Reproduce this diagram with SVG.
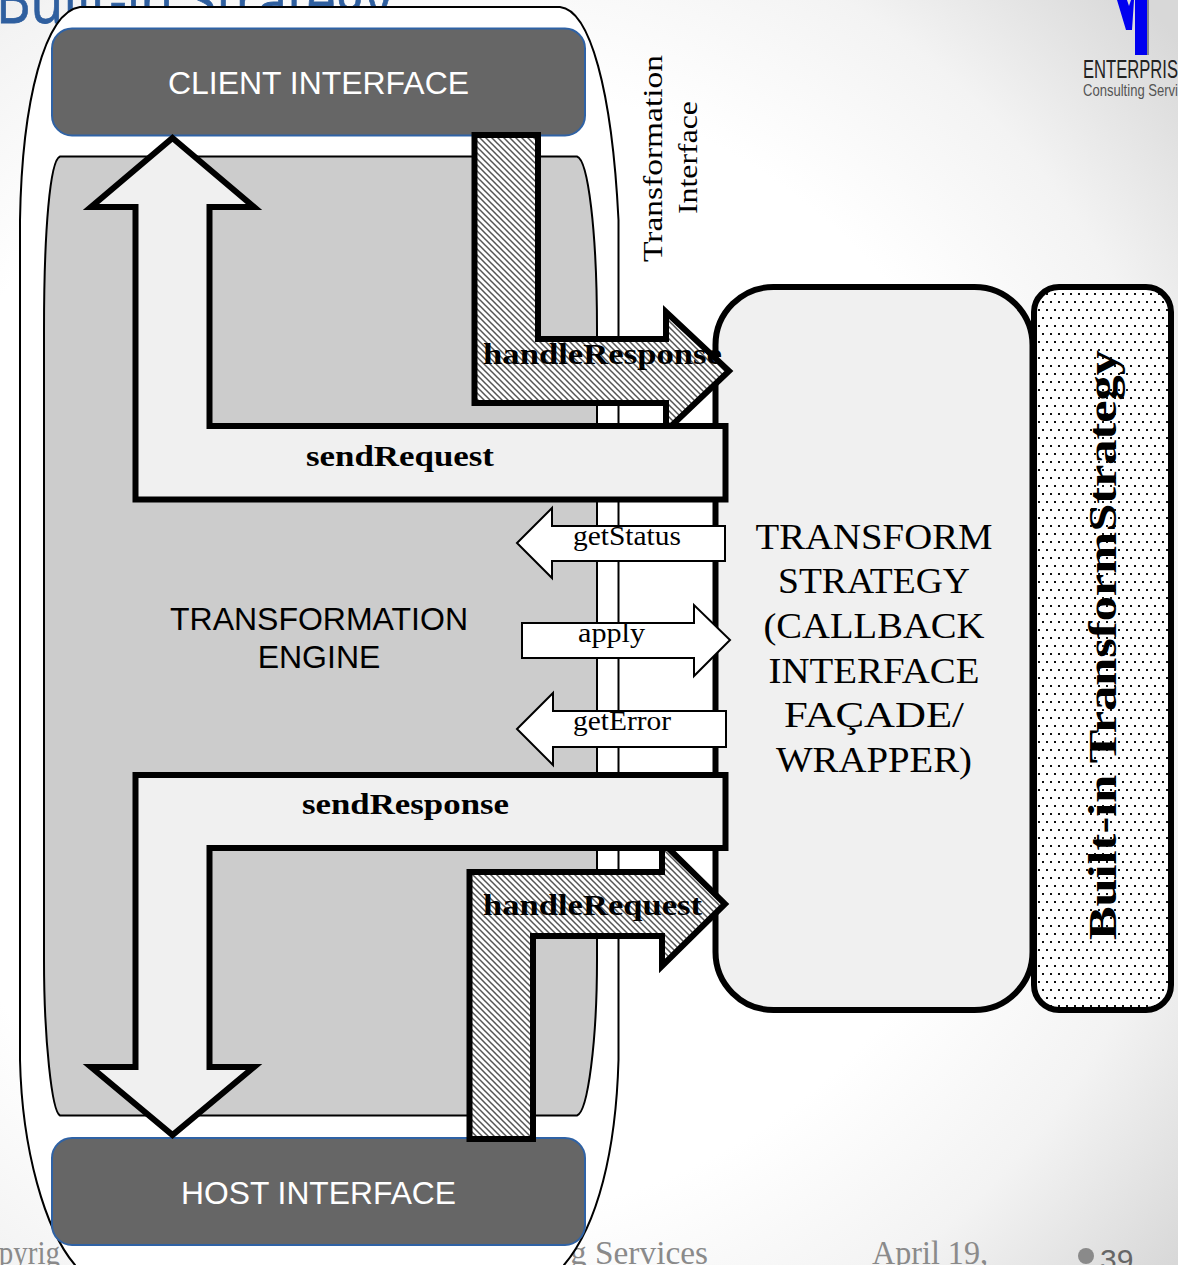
<svg xmlns="http://www.w3.org/2000/svg" width="1178" height="1265" viewBox="0 0 1178 1265">
<style>
.serif{font-family:"Liberation Serif","DejaVu Serif",serif}
.sans{font-family:"Liberation Sans",Arial,sans-serif}
.big{stroke:#000;stroke-width:6;stroke-linejoin:miter;stroke-miterlimit:10}
.light{fill:#f0f0f0}
.hatch{fill:url(#hatch)}
.small{fill:#fff;stroke:#000;stroke-width:2}
.lbl{font-size:27px;text-anchor:middle;fill:#000}
.blbl{font-size:30px;font-weight:bold;text-anchor:middle;fill:#000}
.ts{font-size:36px;text-anchor:middle;fill:#000}
.foot{font-size:34px;fill:#8a8a8a}
.iface{fill:#666;stroke:#2f62a5;stroke-width:2}
.ifacetxt{font-size:32px;fill:#fff;text-anchor:middle}
</style>
<defs>
<radialGradient id="bg" gradientUnits="userSpaceOnUse" cx="450" cy="650" r="950">
<stop offset="0" stop-color="#fff"/><stop offset="0.6" stop-color="#fff"/><stop offset="0.8" stop-color="#f3f3f3"/><stop offset="1" stop-color="#d8d8d8"/>
</radialGradient>
<pattern id="hatch" patternUnits="userSpaceOnUse" width="6" height="6">
<rect width="6" height="6" fill="#fff"/>
<path d="M-1.500,-1.500 L7.500,7.500 M1.500,-4.500 L10.500,4.500 M-4.500,1.500 L4.500,10.500" stroke="#555" stroke-width="1.500" fill="none"/>
</pattern>
<pattern id="dots" patternUnits="userSpaceOnUse" x="1037" y="290" width="8" height="16">
<rect width="8" height="16" fill="#fff"/>
<rect x="1" y="3" width="2" height="2" fill="#111"/>
<rect x="5" y="11" width="2" height="2" fill="#111"/>
</pattern>
</defs>
<rect id="background" width="1178" height="1265" fill="url(#bg)"/>
<g id="title"><text x="-4" y="23" font-size="66" fill="#2f5f9f" stroke="#2f5f9f" stroke-width="0.800" font-family="'Open Sans','Liberation Sans',sans-serif" textLength="396" lengthAdjust="spacingAndGlyphs">Built-in Strategy</text></g>
<g id="logo">
<path d="M1117,0 L1126,30 L1132,30 L1134,0 L1131,0 L1129,6 L1127,0 Z" fill="#0000f0"/>
<rect x="1147" y="0" width="2" height="55" fill="#888"/>
<rect x="1135" y="0" width="12" height="55" fill="#0000f0"/>
<text class="sans" x="1083" y="78" font-size="25" fill="#222" textLength="95" lengthAdjust="spacingAndGlyphs">ENTERPRIS</text>
<text class="sans" x="1083" y="96" font-size="16" fill="#555" textLength="95" lengthAdjust="spacingAndGlyphs">Consulting Servi</text>
</g>
<g id="footer" class="serif">
<text class="foot" x="-35" y="1264" textLength="95" lengthAdjust="spacingAndGlyphs">Copyrig</text>
<text class="foot" x="570" y="1264" textLength="138" lengthAdjust="spacingAndGlyphs">g Services</text>
<text class="foot" x="872" y="1264" textLength="116" lengthAdjust="spacingAndGlyphs">April 19,</text>
<circle cx="1086" cy="1256" r="8" fill="#8a8a8a"/>
<text class="sans" x="1100" y="1270" font-size="30" fill="#666">39</text>
</g>
<g id="outer-capsule"><path d="M80,7 L560,7 C590,10 612,90 618.500,220 L618.500,1060 C616,1150 598,1225 564,1265 L564,1270 L75,1270 L75,1265 C45,1230 22,1150 20,1060 L20,220 C22,100 45,12 80,7 Z" fill="#fff" stroke="#000" stroke-width="2"/></g>
<g id="client-interface">
<rect class="iface" x="52" y="28.500" width="533" height="107" rx="20"/>
<text class="sans ifacetxt" x="318.500" y="94" textLength="301" lengthAdjust="spacingAndGlyphs">CLIENT INTERFACE</text>
</g>
<g id="host-interface">
<rect class="iface" x="52" y="1138" width="533" height="107" rx="20"/>
<text class="sans ifacetxt" x="318.500" y="1204" textLength="275" lengthAdjust="spacingAndGlyphs">HOST INTERFACE</text>
</g>
<g id="transformation-engine">
<path d="M60,156.500 L577,156.500 C588,160 597,230 597,330 L597,960 C597,1040 588,1112 577,1115.500 L60,1115.500 C52,1112 44,1040 44,960 L44,330 C44,230 50,160 60,156.500 Z" fill="#ccc" stroke="#000" stroke-width="2"/>
<text class="sans" font-size="32" text-anchor="middle" fill="#000"><tspan x="319" y="630" textLength="298" lengthAdjust="spacingAndGlyphs">TRANSFORMATION</tspan><tspan x="319" y="668">ENGINE</tspan></text>
</g>
<g id="transform-strategy">
<rect x="715.500" y="287" width="317" height="723" rx="58" fill="#f0f0f0" stroke="#000" stroke-width="6"/>
<g class="serif ts">
<text x="874" y="549" textLength="237" lengthAdjust="spacingAndGlyphs">TRANSFORM</text>
<text x="874" y="593" textLength="192" lengthAdjust="spacingAndGlyphs">STRATEGY</text>
<text x="874" y="638" textLength="221" lengthAdjust="spacingAndGlyphs">(CALLBACK</text>
<text x="874" y="683" textLength="211" lengthAdjust="spacingAndGlyphs">INTERFACE</text>
<text x="874" y="727" textLength="180" lengthAdjust="spacingAndGlyphs">FAÇADE/</text>
<text x="874" y="772" textLength="196" lengthAdjust="spacingAndGlyphs">WRAPPER)</text>
</g>
</g>
<g id="builtin-strategy">
<rect x="1034" y="287" width="137" height="723" rx="25" fill="url(#dots)" stroke="#000" stroke-width="6"/>
<text class="serif" transform="translate(1116,645) rotate(-90)" font-size="39" font-weight="bold" text-anchor="middle" fill="#000" textLength="590" lengthAdjust="spacingAndGlyphs">Built-in TransformStrategy</text>
</g>
<g id="interface-label" class="serif">
<text transform="translate(662,158.500) rotate(-90)" class="lbl" textLength="207" lengthAdjust="spacingAndGlyphs">Transformation</text>
<text transform="translate(697,157.500) rotate(-90)" class="lbl" textLength="113" lengthAdjust="spacingAndGlyphs">Interface</text>
</g>
<g id="connectors">
<g id="handleResponse"><path class="big hatch" d="M474.500,135 L538,135 L538,339 L666,339 L666,312 L729,371 L666,431 L666,403 L474.500,403 Z"/></g>
<g id="handleRequest"><path class="big hatch" d="M469.500,1139 L469.500,872 L662,872 L662,842 L725,904 L662,966 L662,936 L533,936 L533,1139 Z"/></g>
<g id="sendRequest"><path class="big light" d="M172.500,138 L254,207 L209.500,207 L209.500,426 L725.500,426 L725.500,499.500 L135.500,499.500 L135.500,207 L91,207 Z"/></g>
<g id="sendResponse"><path class="big light" d="M135.500,775 L725.500,775 L725.500,848 L209.500,848 L209.500,1067 L254,1067 L172.500,1135 L91,1067 L135.500,1067 Z"/></g>
<g id="getStatus"><path class="small" d="M517,543 L552,508 L552,526 L725,526 L725,561 L552,561 L552,578 Z"/></g>
<g id="apply"><path class="small" d="M522,623 L694,623 L694,605 L730,640 L694,676 L694,658 L522,658 Z"/></g>
<g id="getError"><path class="small" d="M517,729 L553,693 L553,711 L726,711 L726,747 L553,747 L553,765 Z"/></g>
</g>
<g id="connector-labels" class="serif">
<text class="blbl" x="400" y="466" textLength="188" lengthAdjust="spacingAndGlyphs">sendRequest</text>
<text class="blbl" x="405.500" y="814" textLength="207" lengthAdjust="spacingAndGlyphs">sendResponse</text>
<text class="blbl" x="602.500" y="364" textLength="239" lengthAdjust="spacingAndGlyphs">handleResponse</text>
<text class="blbl" x="592.500" y="915" textLength="219" lengthAdjust="spacingAndGlyphs">handleRequest</text>
<text class="lbl" x="627" y="545" textLength="108" lengthAdjust="spacingAndGlyphs">getStatus</text>
<text class="lbl" x="611.500" y="642" textLength="67" lengthAdjust="spacingAndGlyphs">apply</text>
<text class="lbl" x="622" y="730" textLength="98" lengthAdjust="spacingAndGlyphs">getError</text>
</g>
</svg>
